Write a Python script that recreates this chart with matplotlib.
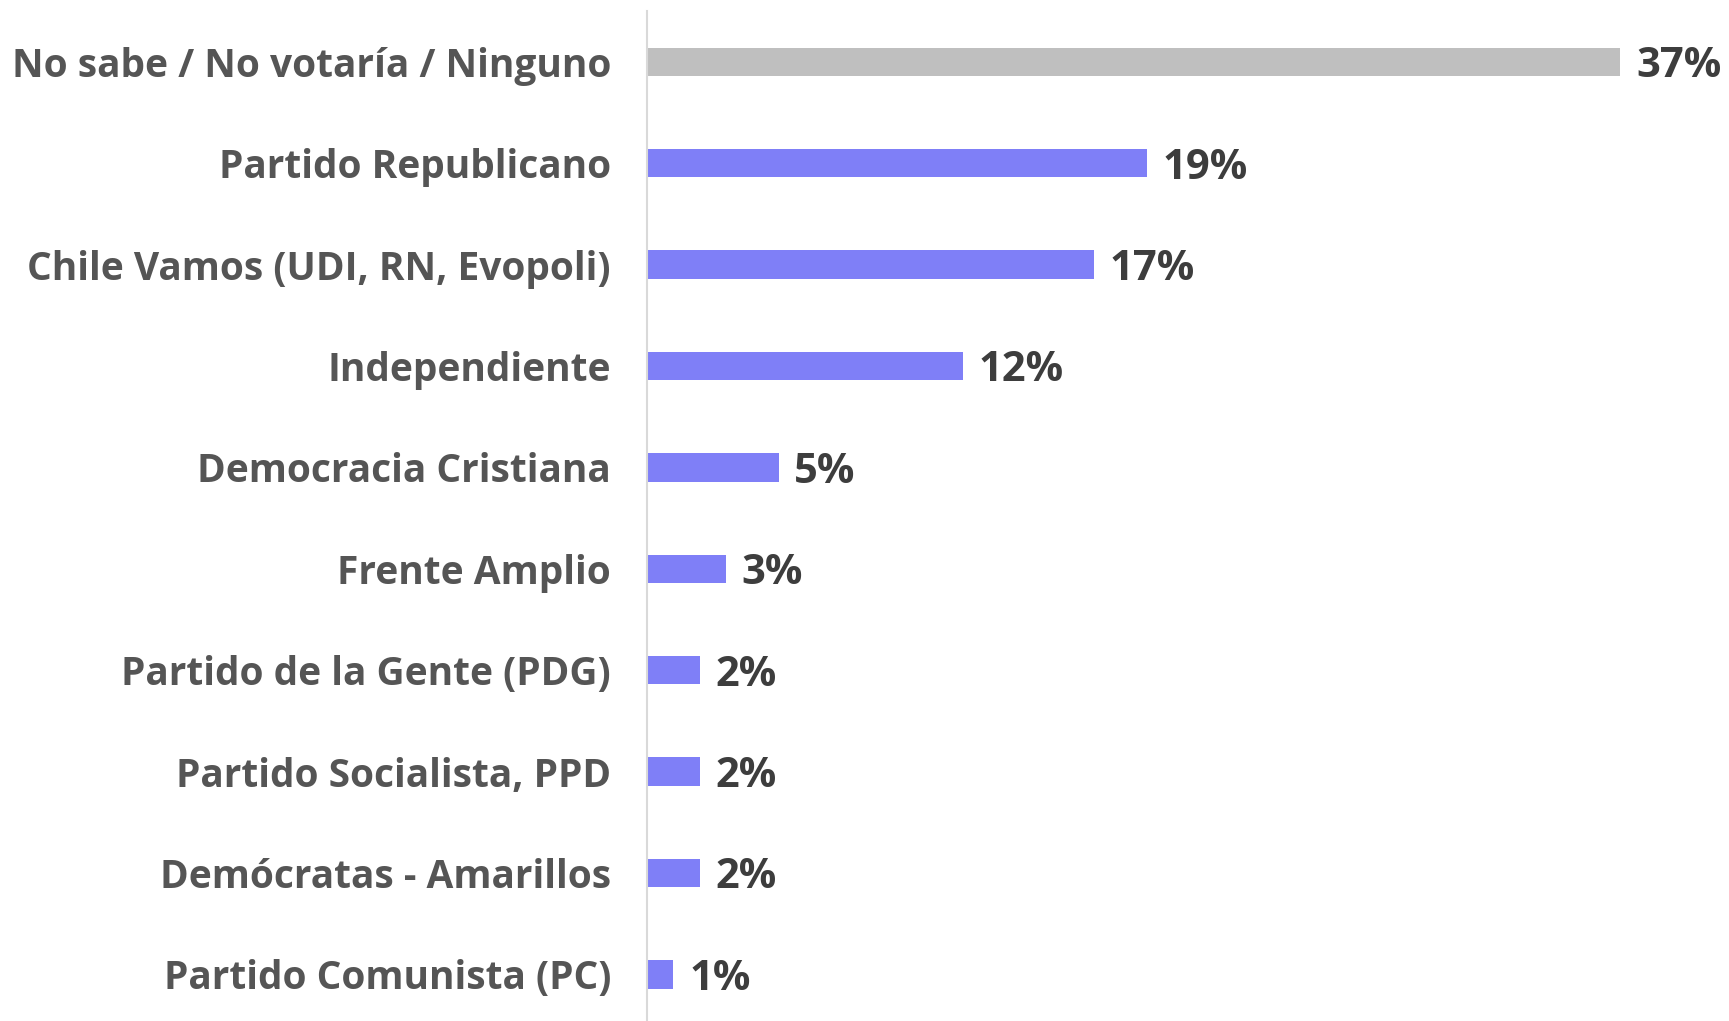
# intención de voto por partido - barras horizontales
import matplotlib.pyplot as plt

partidos = [
    'No sabe / No votaría / Ninguno',
    'Partido Republicano',
    'Chile Vamos (UDI, RN, Evopoli)',
    'Independiente',
    'Democracia Cristiana',
    'Frente Amplio',
    'Partido de la Gente (PDG)',
    'Partido Socialista, PPD',
    'Demócratas - Amarillos',
    'Partido Comunista (PC)',
]
porcentajes = [37, 19, 17, 12, 5, 3, 2, 2, 2, 1]

gris = '#bfbfbf'
morado = '#7f7ff7'
colores = [gris] + [morado] * (len(partidos) - 1)

plt.rcParams['font.family'] = ['Open Sans', 'DejaVu Sans']

fig = plt.figure(figsize=(17.29, 10.21), dpi=100)
ax = fig.add_axes([647 / 1729, 0, 1 - 647 / 1729, 1010 / 1021])

pos = list(range(len(partidos)))
ax.barh(pos, porcentajes, height=0.28, color=colores)

for y, v in zip(pos, porcentajes):
    ax.text(v + 0.6, y, f'{v}%', va='center_baseline', ha='left',
            fontsize=30, fontweight='bold', color='#3d3d3d')

ax.set_xlim(0, 41.14)
ax.set_ylim(9.46, -0.5)
ax.set_yticks(pos)
ax.set_yticklabels(partidos, fontsize=28, fontweight='bold', color='#555555')
ax.tick_params(axis='y', length=0, pad=26)
ax.set_xticks([])

for s in ['top', 'right', 'bottom']:
    ax.spines[s].set_visible(False)
ax.spines['left'].set_color('#d9d9d9')
ax.spines['left'].set_linewidth(1.5)

fig.savefig('out.png', dpi=100)
